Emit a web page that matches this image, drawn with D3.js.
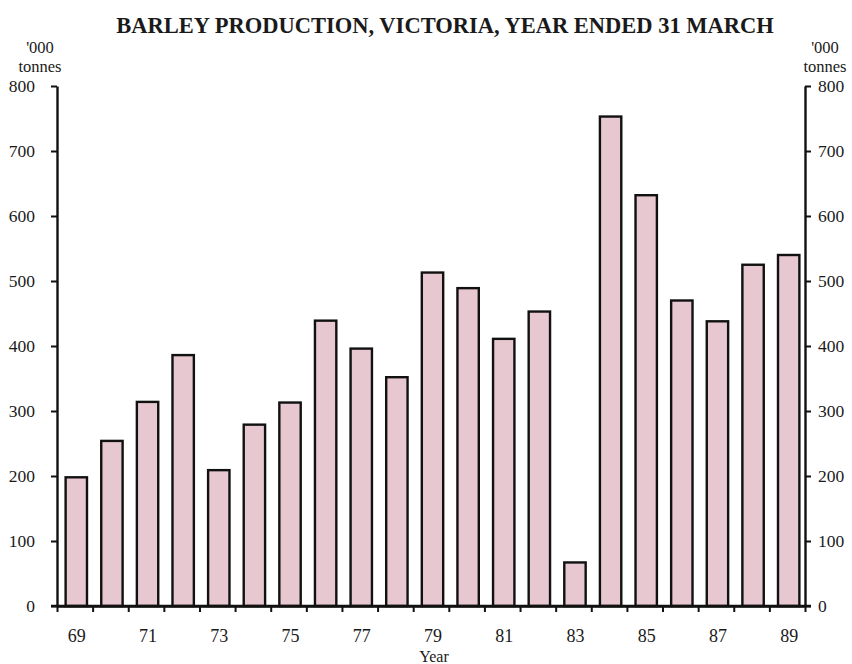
<!DOCTYPE html>
<html>
<head>
<meta charset="utf-8">
<script src="https://cdn.jsdelivr.net/npm/d3@7"></script>
<style>
  html, body { margin: 0; padding: 0; background: #fff; }
  svg { display: block; }
  text { font-family: "Liberation Serif", "Times New Roman", serif; fill: #1a1a1a; }
</style>
</head>
<body>
<svg id="chart" width="852" height="664"></svg>
<script>
// ---- data ----
const years = ["69","70","71","72","73","74","75","76","77","78","79","80","81","82","83","84","85","86","87","88","89"];
const production = [198, 254, 314, 386, 209, 279, 313, 439, 396, 352, 513, 489, 411, 453, 67, 753, 632, 470, 438, 525, 540];
const yTicks = [0, 100, 200, 300, 400, 500, 600, 700, 800];
const xLabelYears = ["69","71","73","75","77","79","81","83","85","87","89"];
const title = "BARLEY PRODUCTION, VICTORIA, YEAR ENDED 31 MARCH";
const unitLines = ["'000", "tonnes"];
const xTitle = "Year";

// ---- layout ----
const svg = d3.select("#chart");
const mLeft = 57, mRight = 805, mTop = 86, mBottom = 606;
const barColor = "#e7c8d0";

const x = d3.scaleBand().domain(years).range([mLeft, mRight]).padding(0);
const y = d3.scaleLinear().domain([0, 800]).range([mBottom, mTop]);

// bars
const bw = x.step() * 0.6;
svg.append("g").selectAll("rect")
  .data(years.map((yr, i) => ({ yr, v: production[i] })))
  .join("rect")
  .attr("x", d => x(d.yr) + x.step() / 2 - bw / 2 + 1.5)
  .attr("y", d => y(d.v))
  .attr("width", bw)
  .attr("height", d => y(0) - y(d.v))
  .attr("fill", barColor)
  .attr("stroke", "#111")
  .attr("stroke-width", 2.4);

// left axis
const yAxisL = d3.axisLeft(y).tickValues(yTicks).tickSize(6).tickPadding(16).tickSizeOuter(0);
const gL = svg.append("g").attr("transform", `translate(${mLeft},0)`).call(yAxisL);
// right axis
const yAxisR = d3.axisRight(y).tickValues(yTicks).tickSize(6).tickPadding(7).tickSizeOuter(0);
const gR = svg.append("g").attr("transform", `translate(${mRight},0)`).call(yAxisR);

// bottom axis: ticks at band boundaries
const xb = d3.scaleLinear().domain([0, years.length]).range([mLeft, mRight]);
const xAxis = d3.axisBottom(xb).tickValues(d3.range(0, years.length + 1)).tickSize(6).tickFormat("").tickSizeOuter(0);
const gB = svg.append("g").attr("transform", `translate(0,${mBottom})`).call(xAxis);

[gL, gR, gB].forEach(g => {
  g.select(".domain").attr("stroke", "#111").attr("stroke-width", 2.4);
  g.selectAll(".tick line").attr("stroke", "#111").attr("stroke-width", 2);
  g.selectAll(".tick text").style("font-family", "Liberation Serif, serif").style("font-size", "17.5px").attr("fill", "#1a1a1a");
});
// extend baseline slightly past axes
svg.append("line").attr("x1", mLeft - 6).attr("x2", mRight + 6).attr("y1", mBottom).attr("y2", mBottom)
  .attr("stroke", "#111").attr("stroke-width", 2.4);

// x labels (odd years)
svg.append("g").selectAll("text")
  .data(xLabelYears)
  .join("text")
  .attr("x", d => x(d) + x.step() / 2 + 2)
  .attr("y", 642)
  .attr("text-anchor", "middle")
  .style("font-size", "18px")
  .text(d => d);

svg.append("text").attr("x", 434).attr("y", 662).attr("text-anchor", "middle")
  .style("font-size", "16px").text(xTitle);

// title
svg.append("text").attr("x", 445).attr("y", 33).attr("text-anchor", "middle")
  .style("font-size", "22.5px").style("font-weight", "bold").text(title);

// unit labels
unitLines.forEach((t, i) => {
  svg.append("text").attr("x", 40).attr("y", 53 + i * 19).attr("text-anchor", "middle")
    .style("font-size", "16.5px").text(t);
  svg.append("text").attr("x", 825).attr("y", 53 + i * 19).attr("text-anchor", "middle")
    .style("font-size", "16.5px").text(t);
});
</script>
</body>
</html>
